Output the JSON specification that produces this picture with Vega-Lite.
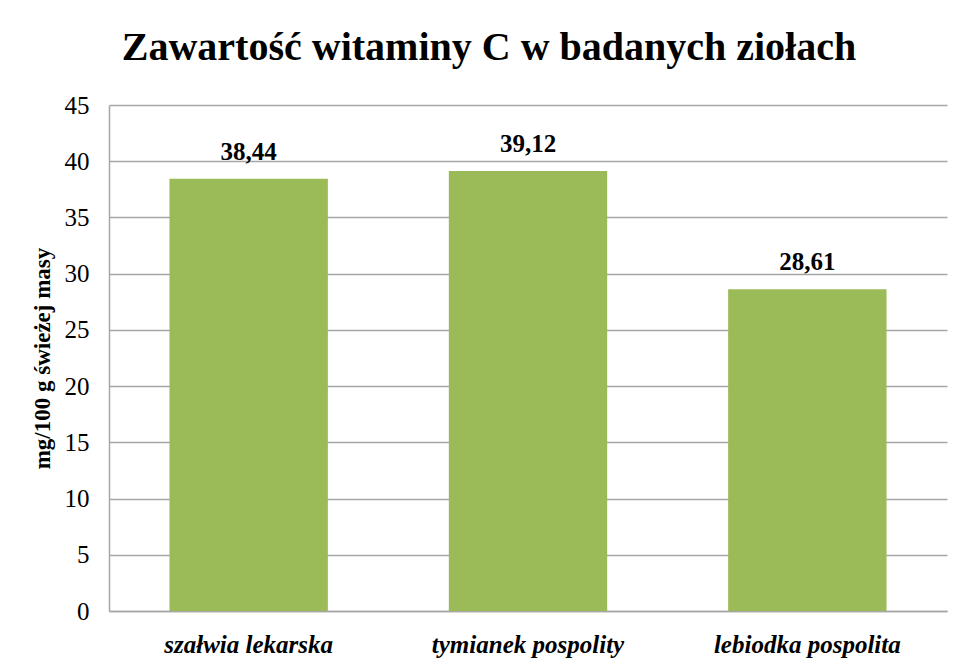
{
  "$schema": "https://vega.github.io/schema/vega-lite/v6.json",
  "width": 838,
  "height": 506,
  "autosize": {"type": "none"},
  "padding": {"left": 109, "top": 105, "right": 17, "bottom": 50},
  "background": "white",
  "config": {
    "locale": {"number": {"decimal": ",", "thousands": " ", "grouping": [3], "currency": ["", " zł"]}},
    "view": {"stroke": null},
    "font": "Liberation Serif",
    "style": {"guide-label": {"font": "Liberation Serif"}, "guide-title": {"font": "Liberation Serif"}},
    "axis": {"labelFont": "Liberation Serif", "titleFont": "Liberation Serif", "labelLimit": 0}
  },
  "title": {
    "text": "Zawartość witaminy C w badanych ziołach",
    "font": "Liberation Serif",
    "fontSize": 40,
    "fontWeight": "bold",
    "color": "#000000",
    "anchor": "middle",
    "frame": "bounds",
    "offset": 25
  },
  "data": {
    "values": [
      {"zioło": "szałwia lekarska", "wartość": 38.44},
      {"zioło": "tymianek pospolity", "wartość": 39.12},
      {"zioło": "lebiodka pospolita", "wartość": 28.61}
    ]
  },
  "encoding": {
    "x": {
      "field": "zioło",
      "type": "nominal",
      "sort": null,
      "scale": {"paddingInner": 0.433, "paddingOuter": 0.2165},
      "axis": {
        "title": null,
        "labelAngle": 0,
        "labelFont": "Liberation Serif",
        "labelFontSize": 25,
        "labelFontWeight": "bold",
        "labelFontStyle": "italic",
        "labelColor": "#000000",
        "labelPadding": 21,
        "labelLimit": 0,
        "ticks": false,
        "domainColor": "#A6A6A6",
        "domainWidth": 1.5
      }
    },
    "y": {
      "field": "wartość",
      "type": "quantitative",
      "scale": {"domain": [0, 45], "nice": false},
      "axis": {
        "title": "mg/100 g świeżej masy",
        "titleFont": "Liberation Serif",
        "titleFontSize": 23,
        "titleFontWeight": "bold",
        "titleColor": "#000000",
        "titlePadding": 10,
        "values": [0, 5, 10, 15, 20, 25, 30, 35, 40, 45],
        "labelFont": "Liberation Serif",
        "labelFontSize": 25,
        "labelColor": "#000000",
        "labelPadding": 20,
        "ticks": false,
        "domainColor": "#A6A6A6",
        "domainWidth": 1.5,
        "gridColor": "#A6A6A6",
        "gridWidth": 1.5
      }
    }
  },
  "layer": [
    {"mark": {"type": "bar", "color": "#9BBB59"}},
    {
      "mark": {"type": "text", "font": "Liberation Serif", "fontSize": 25, "fontWeight": "bold", "color": "#000000", "baseline": "alphabetic", "dy": -19},
      "encoding": {"text": {"field": "wartość", "type": "quantitative", "format": ".2f"}}
    }
  ]
}
